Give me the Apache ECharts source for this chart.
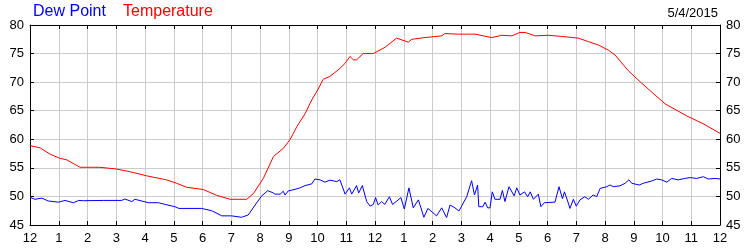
<!DOCTYPE html>
<html>
<head>
<meta charset="utf-8">
<script src="https://cdn.jsdelivr.net/npm/echarts@6/dist/echarts.min.js"></script>
<style>html,body{margin:0;padding:0;background:#fff;}#c{width:750px;height:250px;}</style>
</head>
<body>
<div id="c"></div>
<script>
var hourTicks = [0,1,2,3,4,5,6,7,8,9,10,11,12,13,14,15,16,17,18,19,20,21,22,23,24];
var hourLabels = ['12','1','2','3','4','5','6','7','8','9','10','11','12','1','2','3','4','5','6','7','8','9','10','11','12'];
var yTicks = [45,50,55,60,65,70,75,80];

var tempTimes = [0,0.35,0.70,1.02,1.28,1.74,2.43,3.01,3.59,4.06,4.75,5.10,5.45,6.03,6.49,6.96,7.54,7.77,8.12,8.47,8.81,9.04,9.28,9.57,9.80,9.97,10.20,10.43,10.78,10.96,11.13,11.25,11.36,11.59,11.94,12.35,12.75,13.16,13.28,13.74,14.32,14.43,14.90,15.48,16.06,16.41,16.76,17.04,17.22,17.57,18.03,18.49,19.07,19.42,19.77,20.12,20.35,20.81,21.28,21.74,22.09,22.43,22.84,23.42,24];
var tempValues = [58.9,58.5,57.4,56.7,56.4,55.1,55.1,54.8,54.2,53.6,52.9,52.3,51.6,51.2,50.2,49.5,49.5,50.5,53.2,57.0,58.4,59.9,62.2,64.5,66.9,68.3,70.5,71.0,72.4,73.3,74.5,73.9,73.9,75.0,75.0,76.1,77.7,77.0,77.5,77.8,78.1,78.5,78.4,78.4,77.8,78.2,78.1,78.7,78.7,78.1,78.2,78.0,77.7,77.1,76.5,75.6,74.75,72.0,69.8,67.75,66.2,65.25,64.1,62.7,61.05];

var dewTimes = [0,0.17,0.41,0.64,0.99,1.22,1.51,1.70,1.86,2.55,3.19,3.30,3.54,3.65,4.12,4.47,4.70,5.04,5.18,5.97,6.32,6.67,7.01,7.36,7.59,7.83,8.06,8.27,8.45,8.52,8.70,8.81,8.87,8.98,9.22,9.39,9.57,9.80,9.91,10.09,10.26,10.43,10.67,10.78,10.96,11.11,11.19,11.36,11.43,11.56,11.71,11.83,11.94,12.02,12.11,12.23,12.34,12.50,12.61,12.76,12.90,13.02,13.18,13.33,13.51,13.70,13.84,13.98,14.14,14.32,14.49,14.61,14.78,14.92,15.19,15.36,15.46,15.57,15.61,15.75,15.83,15.92,16.00,16.08,16.17,16.35,16.43,16.52,16.66,16.84,16.93,17.04,17.20,17.31,17.40,17.51,17.68,17.77,17.89,18.26,18.40,18.52,18.59,18.70,18.78,18.90,19.00,19.13,19.30,19.42,19.59,19.71,19.83,20.06,20.17,20.29,20.52,20.70,20.83,20.93,21.19,21.33,21.62,21.80,21.97,22.15,22.32,22.55,22.78,22.96,23.19,23.42,23.59,23.83,24.00];
var dewValues = [49.85,49.5,49.7,49.2,49.0,49.3,48.9,49.3,49.25,49.3,49.3,49.55,49.1,49.5,48.9,48.9,48.6,48.2,47.9,47.9,47.5,46.6,46.6,46.35,46.75,48.5,50.1,51.0,50.65,50.4,50.4,50.9,50.25,50.95,51.25,51.5,51.9,52.2,53.05,52.9,52.5,52.85,52.6,52.9,50.4,51.5,50.4,51.9,50.6,51.9,49.1,48.3,48.6,49.8,48.5,49.1,48.6,49.95,48.6,49.2,49.8,47.8,51.5,48.0,49.4,46.35,47.9,47.3,46.6,48.0,46.3,48.5,48.0,47.45,49.95,52.75,50.25,52.0,48.2,48.2,49.0,48.0,48.0,50.8,49.5,49.5,51.05,49.1,51.7,50.1,51.5,50.25,50.8,49.95,50.8,49.5,50.4,48.2,48.9,49.0,51.7,49.6,50.8,49.2,47.9,49.5,48.3,49.4,49.95,49.5,50.25,49.95,51.4,51.7,52.0,51.7,51.85,52.3,52.9,52.3,52.0,52.3,52.7,53.05,52.9,52.5,53.15,52.9,53.15,53.3,53.15,53.45,53.05,53.15,53.05];

function pairs(t, v) { return t.map(function (x, i) { return [x, v[i]]; }); }

var FONT = 'Liberation Sans';
var chart = echarts.init(document.getElementById('c'), null, {renderer: 'canvas'});

function xAxisCfg(pos, showLabel) {
  return {
    type: 'value', position: pos, min: 0, max: 24, interval: 1,
    axisLine: {show: true, onZero: false, lineStyle: {color: '#000', width: 1}},
    axisTick: {show: true, inside: true, length: 4, lineStyle: {color: '#000'}},
    splitLine: {show: showLabel, lineStyle: {color: '#cccccc', width: 1}},
    axisLabel: {show: showLabel, color: '#000', fontFamily: FONT, fontSize: 13, margin: 7,
      formatter: function (val) { return hourLabels[hourTicks.indexOf(val)]; }}
  };
}
function yAxisCfg(pos, showSplit) {
  return {
    type: 'value', position: pos, min: 45, max: 80, interval: 5,
    axisLine: {show: true, onZero: false, lineStyle: {color: '#000', width: 1}},
    axisTick: {show: true, inside: true, length: 4, lineStyle: {color: '#000'}},
    splitLine: {show: showSplit, lineStyle: {color: '#cccccc', width: 1}},
    axisLabel: {show: true, color: '#000', fontFamily: FONT, fontSize: 13, margin: 6,
      formatter: function (val) { return yTicks.indexOf(val) >= 0 ? String(val) : ''; }}
  };
}

chart.setOption({
  animation: false,
  backgroundColor: '#fff',
  grid: {left: 30, right: 30, top: 25, bottom: 25, containLabel: false},
  xAxis: [xAxisCfg('bottom', true), xAxisCfg('top', false)],
  yAxis: [yAxisCfg('left', true), yAxisCfg('right', false)],
  graphic: [
    {type: 'text', x: 33, y: 12, style: {text: 'Dew Point', fill: '#0000ff', fontFamily: FONT, fontSize: 16, verticalAlign: 'middle'}},
    {type: 'text', x: 123, y: 12, style: {text: 'Temperature', fill: '#ff0000', fontFamily: FONT, fontSize: 16, verticalAlign: 'middle'}},
    {type: 'text', x: 718, y: 13, style: {text: '5/4/2015', fill: '#000', fontFamily: FONT, fontSize: 13, align: 'right', verticalAlign: 'middle'}}
  ],
  series: [
    {name: 'Temperature', type: 'line', xAxisIndex: 0, yAxisIndex: 0, data: pairs(tempTimes, tempValues),
      showSymbol: false, lineStyle: {color: '#ff0000', width: 1}, z: 3},
    {name: 'Dew Point', type: 'line', xAxisIndex: 0, yAxisIndex: 0, data: pairs(dewTimes, dewValues),
      showSymbol: false, lineStyle: {color: '#0000ff', width: 1}, z: 3}
  ]
});
</script>
</body>
</html>
